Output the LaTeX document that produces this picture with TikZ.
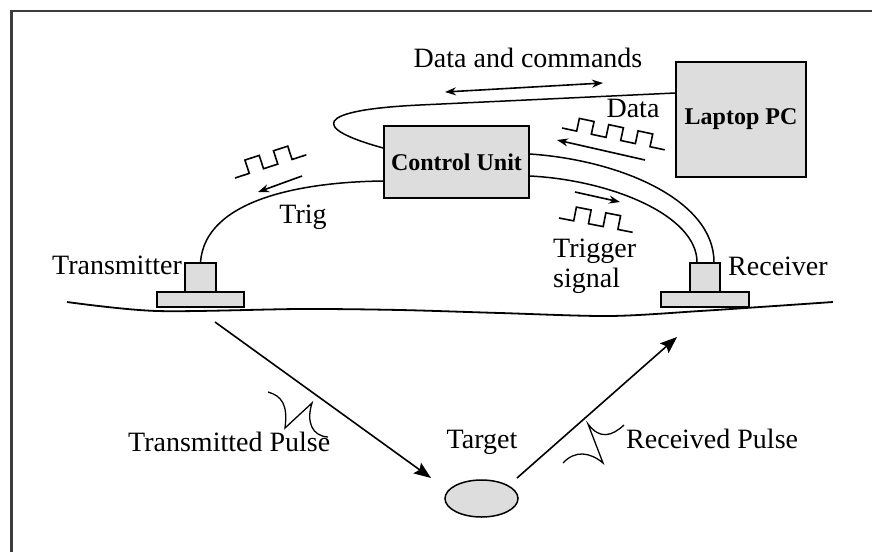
\documentclass[tikz,border=0pt]{standalone}
\usepackage{fontspec}
\setmainfont{Liberation Serif}
\usepackage{tikz}
\usetikzlibrary{positioning, shapes.geometric, arrows.meta}
\definecolor{boxgray}{RGB}{221,221,221}
\definecolor{framegray}{RGB}{60,60,60}
\tikzstyle{box} = [draw, line width=1.5pt, fill=boxgray, inner sep=0pt]
\tikzstyle{txt} = [inner sep=0pt]
\tikzstyle{cable} = [line width=1.5pt]
\tikzstyle{sig} = [line width=1.6pt, >={Stealth[length=11pt,width=8pt]}]
\tikzstyle{beam} = [line width=1.6pt, ->, >={Stealth[length=17pt,width=13pt,inset=3pt]}]
\tikzstyle{wave} = [line width=1.6pt]
\tikzstyle{pulse} = [line width=1.3pt]

\begin{document}
\begin{tikzpicture}[x=1pt, y=-1pt, font=\fontsize{28}{30}\selectfont]
        \useasboundingbox (0,0) rectangle (872,552);

        % Frame
        \draw[framegray, line width=2.5pt] (11.5,552) -- (11.5,11) -- (872,11);

        % Units
        \node[box, minimum width=130pt, minimum height=115pt, font=\bfseries\fontsize{24}{26}\selectfont] (pc) at (741,119.5) {Laptop PC};
        \node[box, minimum width=145pt, minimum height=72pt, font=\bfseries\fontsize{24}{26}\selectfont] (cu) at (456.5,162) {Control Unit};

        % Transmitter and receiver
        \node[box, minimum width=31pt, minimum height=29pt] (tx) at (200.5,277.5) {};
        \node[box, minimum width=87pt, minimum height=15pt] (txbase) at (200.5,299.5) {};
        \node[box, minimum width=30pt, minimum height=29pt] (rx) at (705,277.5) {};
        \node[box, minimum width=88pt, minimum height=15pt] (rxbase) at (705,299.5) {};

        % Target
        \node[box, ellipse, minimum width=73pt, minimum height=37pt] (tgt) at (481.5,498.5) {};

        % Labels
        \node[txt, anchor=base] (datacmd) at (528,67) {Data and commands};
        \node[txt, anchor=base] (datalbl) at (633,117) {Data};
        \node[txt, anchor=base] (triglbl) at (303,223) {Trig};
        \node[txt, anchor=north west, align=left] (trigsig) at (553,239) {Trigger\\signal};
        \node[txt, anchor=base east] (txlbl) at (182,274) {Transmitter};
        \node[txt, anchor=base west] (rxlbl) at (728,275) {Receiver};
        \node[txt, anchor=base west] (txplbl) at (128,451) {Transmitted Pulse};
        \node[txt, anchor=base] (tgtlbl) at (482,448) {Target};
        \node[txt, anchor=base west] (rxplbl) at (626,448) {Received Pulse};

        % Ground
        \draw[line width=1.8pt] plot[smooth] coordinates {(67,302) (157,311) (300,309) (400,310) (500,313) (610,316) (700,311) (760,307) (833,302)};

        % Cables
        \draw[cable] ([yshift=26.5pt]pc.west) -- (420,105) .. controls (314,110) and (310,128) .. ([yshift=14pt]cu.west);
        \draw[cable] (tx.north) .. controls (205,200) and (300,182) .. ([yshift=-19pt]cu.west);
        \draw[cable] ([yshift=8pt]cu.east) .. controls (620,160) and (714,200) .. ([xshift=9pt]rx.north);
        \draw[cable] ([yshift=-14pt]cu.east) .. controls (610,180) and (697,215) .. ([xshift=-8pt]rx.north);

        % Signal arrows
        \coordinate (dcleft) at (445,92);
        \coordinate (dcright) at (603,83);
        \draw[sig, <->] (dcleft) -- (dcright);
        \coordinate (datafrom) at (645,160);
        \coordinate (datato) at (557,140);
        \draw[sig, ->] (datafrom) -- (datato);
        \coordinate (trigfrom) at (302,176);
        \coordinate (trigto) at (258,192);
        \draw[sig, ->] (trigfrom) -- (trigto);
        \coordinate (tsfrom) at (575,192);
        \coordinate (tsto) at (620,202);
        \draw[sig, ->] (tsfrom) -- (tsto);

        % Square waves
        \begin{scope}[shift={(562,128)}, rotate=-12]
            \draw[wave] (0,0) \foreach \i in {1,2,3} { -- ++(15,0) -- ++(0,-13) -- ++(15,0) -- ++(0,13) } -- ++(15,0);
        \end{scope}
        \begin{scope}[shift={(559,218)}, rotate=-11]
            \draw[wave] (0,0) \foreach \i in {1,2} { -- ++(15,0) -- ++(0,-14) -- ++(15,0) -- ++(0,14) } -- ++(15,0);
        \end{scope}
        \begin{scope}[shift={(235,178)}, rotate=18]
            \draw[wave] (0,0) \foreach \i in {1,2} { -- ++(15,0) -- ++(0,-14) -- ++(15,0) -- ++(0,14) } -- ++(15,0);
        \end{scope}

        % Radar paths
        \coordinate (txout) at (215,322);
        \coordinate (hit) at (431,478);
        \draw[beam] (txout) -- (hit);
        \coordinate (bounce) at (517,478);
        \coordinate (rxin) at (677,337);
        \draw[beam] (bounce) -- (rxin);

        % Pulses
        \draw[pulse] (268,392) .. controls (282,396) and (288,405) .. (285,428) -- (312,403) .. controls (306,422) and (312,436) .. (328,437);
        \draw[pulse] (563,463) .. controls (575,450) and (590,452) .. (603,463) -- (588,424) .. controls (600,440) and (612,436) .. (624,425);

    \end{tikzpicture}
\end{document}
